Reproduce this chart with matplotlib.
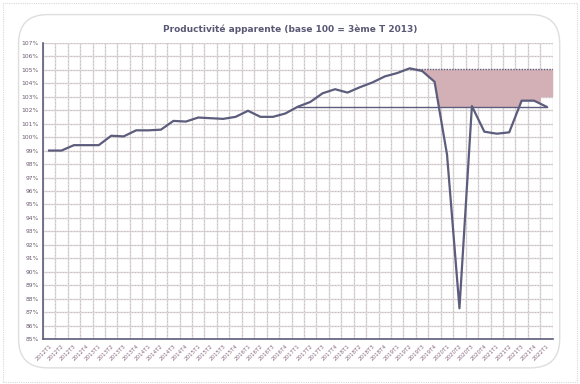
import numpy as np
import matplotlib
matplotlib.use("Agg")
import matplotlib.pyplot as plt
from matplotlib.patches import FancyBboxPatch

# quarters 2012T1 .. 2022T1
quarters = [f"{y}T{q}" for y in range(2012, 2023) for q in range(1, 5)][:41]

productivite = [99.0, 99.0, 99.4, 99.4, 99.4, 100.1, 100.05, 100.5, 100.5, 100.55,
                101.2, 101.15, 101.45, 101.4, 101.35, 101.5, 101.95, 101.5, 101.5, 101.75,
                102.25, 102.6, 103.25, 103.55, 103.3, 103.7, 104.05, 104.5, 104.75, 105.1,
                104.9, 104.1, 98.7, 87.3, 102.3, 100.4, 100.25, 100.35, 102.7, 102.7,
                102.25]

niveau_ref = 102.25      # niveau 2019T1
niveau_pic = 105.05      # pic 2019T4
bas_dernier = 103.0      # bas de la zone sur le dernier trimestre
i_ref = 20
i_pic = 29

line_col = "#5c5c7c"
pink = "#d3b0b5"

fig = plt.figure(figsize=(5.8, 3.84), dpi=100)

# cadres
fig.patches.append(FancyBboxPatch((0.006, 0.006), 0.988, 0.985, boxstyle="square,pad=0",
                                  transform=fig.transFigure, fill=False,
                                  ec="#d9d9d9", lw=0.8, ls=(0, (1, 1))))
fig.patches.append(FancyBboxPatch((0.032, 0.042), 0.933, 0.92, boxstyle="round,pad=0,rounding_size=0.05",
                                  transform=fig.transFigure, fill=False,
                                  ec="#dedede", lw=1.0, mutation_aspect=580/384))

ax = fig.add_axes([0.0738, 0.1164, 0.8792, 0.7724])
x = np.arange(len(quarters))
y = np.array(productivite)

# grille
for v in range(85, 108):
    ax.axhline(v, color="#d9d9d9", lw=1.0, zorder=0)
    ax.axhline(v, color="#c99aa6", lw=0.5, ls=(0, (1, 3)), zorder=0)
for k in range(len(quarters) + 1):
    ax.axvline(k - 0.5, color="#d9d9d9", lw=1.0, zorder=0)
    ax.axvline(k - 0.5, color="#c99aa6", lw=0.5, ls=(0, (1, 4)), zorder=0)

# zone d'écart
xs = np.linspace(i_pic, len(quarters) - 0.5, 800)
courbe = np.interp(xs, x, y)
bas = np.maximum(courbe, niveau_ref)
bas[xs > len(quarters) - 1.5] = bas_dernier
ax.fill_between(xs, bas, niveau_pic, where=bas < niveau_pic, color=pink, lw=0, zorder=1)
ax.plot([i_pic, len(quarters) - 0.5], [niveau_pic, niveau_pic], color=line_col,
        lw=1.0, ls=(0, (1, 1)), zorder=2)
ax.plot([i_ref, len(quarters) - 1], [niveau_ref, niveau_ref], color=line_col, lw=1.0, zorder=2)

ax.plot(x, y, color=line_col, lw=1.6, zorder=3)

ax.set_xlim(-0.5, len(quarters) - 0.5)
ax.set_ylim(85, 107)
ax.set_yticks(range(85, 108))
ax.set_yticklabels([f"{v}%" for v in range(85, 108)], fontsize=4.3, color="#6a5a70")
ax.set_xticks(x)
ax.set_xticklabels(quarters, rotation=45, ha="right", rotation_mode="anchor",
                   fontsize=4.0, color="#8a6a80")
ax.tick_params(axis="both", length=0, pad=3)
for s in ["top", "right"]:
    ax.spines[s].set_visible(False)
for s in ["left", "bottom"]:
    ax.spines[s].set_color(line_col)
    ax.spines[s].set_linewidth(1.2)

fig.text(0.5, 0.925, "Productivité apparente (base 100 = 3ème T 2013)", ha="center",
         va="center", fontsize=6.5, fontweight="bold", color="#595975")

fig.savefig("out.png", dpi=100)
